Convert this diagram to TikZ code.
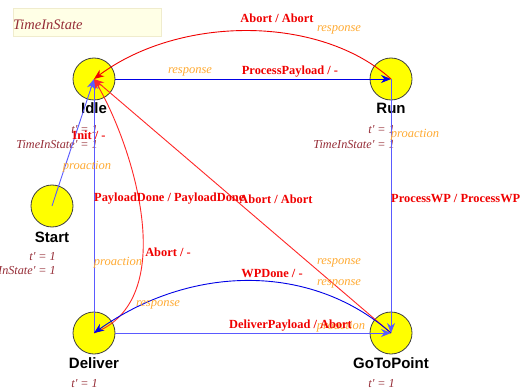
\documentclass[tikz,border=0pt]{standalone}
\usepackage{fontspec}
\setmainfont{Liberation Serif}
\newfontfamily\labelsans{Liberation Sans}
\usetikzlibrary{arrows.meta}

\definecolor{stfill}{RGB}{255,255,0}
\definecolor{evred}{RGB}{240,0,0}
\definecolor{hintor}{RGB}{255,170,50}
\definecolor{attrred}{RGB}{150,45,55}
\definecolor{deepblue}{RGB}{0,0,230}
\definecolor{softblue}{RGB}{90,90,255}
\definecolor{softred}{RGB}{255,40,40}
\definecolor{memo}{RGB}{255,255,230}
\definecolor{memoedge}{RGB}{240,236,205}

% straight prime mark used in the update expressions
\newcommand{\upd}{\textquotesingle}

\begin{document}
\begin{tikzpicture}[x=1pt,y=-1pt,
  state/.style={circle,draw=black!75,fill=stfill,line width=0.8pt,minimum size=42pt,inner sep=0pt},
  sname/.style={font=\labelsans\bfseries\fontsize{15}{17}\selectfont,text=black,inner sep=0pt},
  evt/.style={font=\bfseries\fontsize{12.4}{14}\selectfont,text=evred,inner sep=0pt},
  hint/.style={font=\itshape\fontsize{12.5}{14}\selectfont,text=hintor,inner sep=0pt},
  attr/.style={font=\itshape\fontsize{12.2}{14}\selectfont,text=attrred,inner sep=0pt,anchor=east},
  tr/.style={line width=0.9pt,-{Stealth[length=10pt,width=8pt]}},
]
\clip (0,0) rectangle (521,390);
\fill[white] (0,0) rectangle (521,390);

% variable memo
\node[draw=memoedge,fill=memo,minimum width=148pt,minimum height=28pt,inner sep=0pt,anchor=north west] (memo) at (13,8) {};
\node[font=\itshape\fontsize{14.5}{16}\selectfont,text=attrred,inner sep=0pt,anchor=west] (memotext) at (13,25) {TimeInState};

% states
\node[state] (idle) at (94,79) {};
\node[state] (run) at (391,79) {};
\node[state] (start) at (52,206) {};
\node[state] (deliver) at (94,333) {};
\node[state] (gotopoint) at (391,333) {};

\node[sname] (idlename) at (94,108) {Idle};
\node[sname] (runname) at (391,108) {Run};
\node[sname] (startname) at (52,237) {Start};
\node[sname] (delivername) at (94,363) {Deliver};
\node[sname] (gotoname) at (391,363) {GoToPoint};

% state attributes
\node[attr] (idleattra) at (98,130) {t\upd{} = 1};
\node[attr] (idleattrb) at (98,145) {TimeInState\upd{} = 1};
\node[attr] (runattra) at (395,130) {t\upd{} = 1};
\node[attr] (runattrb) at (395,145) {TimeInState\upd{} = 1};
\node[attr] (startattra) at (56,257) {t\upd{} = 1};
\node[attr] (startattrb) at (56,271) {TimeInState\upd{} = 1};
\node[attr] (deliverattra) at (98,384) {t\upd{} = 1};
\node[attr] (gotoattra) at (395,384) {t\upd{} = 1};

% transitions
\draw[tr,deepblue] (idle.east) -- (run.center);
\draw[tr,evred] (run.center) .. controls (320,15) and (180,15) .. (idle.center);
\draw[tr,softblue] (run.center) -- (gotopoint.center);
\draw[tr,softblue] (start.center) -- (idle.center);
\draw[tr,softblue] (deliver.center) -- (idle.center);
\draw[tr,softred] (deliver.center) .. controls (180,300) and (135,150) .. (idle.center);
\draw[tr,softred] (gotopoint.center) -- (idle.center);
\draw[tr,deepblue] (gotopoint.center) .. controls (310,262) and (190,265) .. (deliver.center);
\draw[tr,softblue] (deliver.east) -- (gotopoint.center);

% transition labels
\node[hint] (h1) at (190,72) {response};
\node[evt] (e1) at (290,72) {ProcessPayload / -};
\node[evt] (e2) at (277,18) {Abort / Abort};
\node[hint] (h2) at (339,30) {response};
\node[evt] (e3) at (89,135) {Init / -};
\node[hint] (h3) at (87,167) {proaction};
\node[evt,anchor=west] (e4) at (94,199) {PayloadDone / PayloadDone};
\node[hint] (h4) at (118,263) {proaction};
\node[evt] (e5) at (168,252) {Abort / -};
\node[hint] (h5) at (158,305) {response};
\node[hint] (h6) at (415,135) {proaction};
\node[evt,anchor=west] (e6) at (391,199) {ProcessWP / ProcessWP};
\node[evt] (e7) at (276,199) {Abort / Abort};
\node[hint] (h7) at (339,263) {response};
\node[evt] (e8) at (272,274) {WPDone / -};
\node[hint] (h8) at (339,284) {response};
\node[hint] (h9) at (341,327) {proaction};
\node[evt,anchor=west] (e9) at (229,326) {DeliverPayload / Abort};
\end{tikzpicture}
\end{document}
